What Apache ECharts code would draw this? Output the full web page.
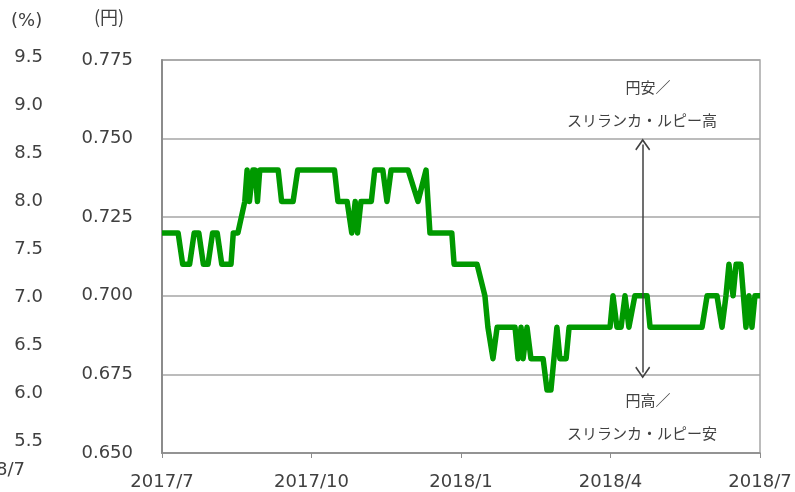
<!DOCTYPE html>
<html><head><meta charset="utf-8">
<script src="https://cdn.jsdelivr.net/npm/echarts@6/dist/echarts.min.js"></script>
<style>html,body{margin:0;padding:0;background:#fff}#c{width:795px;height:492px}</style>
</head><body><div id="c"></div>
<script>
// x: trading-day index from 2017/7 (0) to 2018/7 (260)
const dayIndex = [0,7,9,12,14,16,18,20,22,24,26,30,31,33,36,37,38,39.5,40.5,41.5,42.5,50.5,52,57,59,75,76.5,80.5,82.5,84,85,86.5,91,92.5,96,97.8,99.6,107,111.3,114.8,116.5,126,127,137,140.4,141.7,143.9,145.7,153.5,154.8,156.1,157,158.7,160.4,165.7,167.4,169.1,170.4,171.7,173,175.7,177,194.8,196.1,197.8,199.6,201.3,203,205.6,210.9,212.2,234.8,237,241.3,243.5,245.2,246.5,248.3,249.6,251.7,253.9,255.2,256.5,257.8,260];
const yenPerRupee = [0.72,0.72,0.71,0.71,0.72,0.72,0.71,0.71,0.72,0.72,0.71,0.71,0.72,0.72,0.73,0.74,0.73,0.74,0.74,0.73,0.74,0.74,0.73,0.73,0.74,0.74,0.73,0.73,0.72,0.73,0.72,0.73,0.73,0.74,0.74,0.73,0.74,0.74,0.73,0.74,0.72,0.72,0.71,0.71,0.70,0.69,0.68,0.69,0.69,0.68,0.69,0.68,0.69,0.68,0.68,0.67,0.67,0.68,0.69,0.68,0.68,0.69,0.69,0.70,0.69,0.69,0.70,0.69,0.70,0.70,0.69,0.69,0.70,0.70,0.69,0.70,0.71,0.70,0.71,0.71,0.69,0.70,0.69,0.70,0.70];
const xTickLabels = ['2017/7','2017/10','2018/1','2018/4','2018/7'];
const yenMin = 0.650, yenMax = 0.775, yenStep = 0.025;
const pctMin = 5.5, pctMax = 9.5, pctStep = 0.5;
const arrowDay = 209, arrowTop = 0.7481, arrowBottom = 0.6756;

const numFont = "'DejaVu Sans','Noto Sans CJK JP',sans-serif";
const jpFont = "'Noto Sans CJK JP','DejaVu Sans',sans-serif";
const txt = '#404040';

const chart = echarts.init(document.getElementById('c'), null, {renderer:'canvas'});
chart.setOption({
  animation:false,
  backgroundColor:'#fff',
  grid:[
    {left:162,right:35,top:60,bottom:39,show:true,borderColor:'#a6a6a6',borderWidth:1.5},
    {left:50,width:10,top:57,bottom:51,show:false}
  ],
  xAxis:[
    {type:'value',gridIndex:0,min:0,max:260,interval:65,
     axisLine:{lineStyle:{color:'#8c8c8c',width:1.5}},
     axisTick:{show:true,length:5,inside:false,lineStyle:{color:'#8c8c8c'}},
     splitLine:{show:false},
     axisLabel:{show:true,margin:20,color:txt,fontFamily:numFont,fontSize:18,showMinLabel:true,showMaxLabel:true,
       formatter:v=>xTickLabels[Math.round(v/65)]}},
    {type:'value',gridIndex:1,min:0,max:1,show:false}
  ],
  yAxis:[
    {type:'value',gridIndex:0,min:yenMin,max:yenMax,interval:yenStep,
     axisLine:{show:true,lineStyle:{color:'#8c8c8c',width:2}},
     axisTick:{show:false},
     splitLine:{lineStyle:{color:'#a6a6a6',width:1.5}},
     axisLabel:{margin:29,color:txt,fontFamily:numFont,fontSize:18,formatter:v=>v.toFixed(3)}},
    {type:'value',gridIndex:1,min:pctMin,max:pctMax,interval:pctStep,
     axisLine:{show:false},axisTick:{show:false},splitLine:{show:false},
     axisLabel:{margin:7,color:txt,fontFamily:numFont,fontSize:18,formatter:v=>v.toFixed(1)}}
  ],
  series:[{
    type:'line',xAxisIndex:0,yAxisIndex:0,
    data:dayIndex.map((d,i)=>[d,yenPerRupee[i]]),
    showSymbol:false,symbol:'none',
    lineStyle:{color:'#009900',width:5.5,join:'round'},
    z:3,
    markLine:{
      silent:true,
      symbol:['path://M0,0 L8,9 L6.8,10 L0,2.4 L-6.8,10 L-8,9 Z','path://M0,0 L8,9 L6.8,10 L0,2.4 L-6.8,10 L-8,9 Z'],
      symbolSize:[15,12],
      label:{show:false},
      lineStyle:{color:'#404040',width:1.5,type:'solid'},
      data:[[{coord:[arrowDay,arrowTop]},{coord:[arrowDay,arrowBottom]}]]
    }
  }],
  graphic:[
    {type:'text',left:11,top:12,style:{text:'(%)',fill:txt,font:'18px '+numFont}},
    {type:'text',left:94,top:8,style:{text:'(円)',fill:txt,font:'18px '+jpFont}},
    {type:'text',x:25,y:470,style:{text:'2018/7',fill:txt,font:'18px '+numFont,align:'right',verticalAlign:'middle'}},
    {type:'text',x:648,y:87,style:{text:'円安／',fill:txt,font:'15px '+jpFont,align:'center',verticalAlign:'middle'}},
    {type:'text',x:642,y:120,style:{text:'スリランカ・ルピー高',fill:txt,font:'15px '+jpFont,align:'center',verticalAlign:'middle'}},
    {type:'text',x:648,y:400,style:{text:'円高／',fill:txt,font:'15px '+jpFont,align:'center',verticalAlign:'middle'}},
    {type:'text',x:642,y:433,style:{text:'スリランカ・ルピー安',fill:txt,font:'15px '+jpFont,align:'center',verticalAlign:'middle'}}
  ]
});
</script></body></html>
